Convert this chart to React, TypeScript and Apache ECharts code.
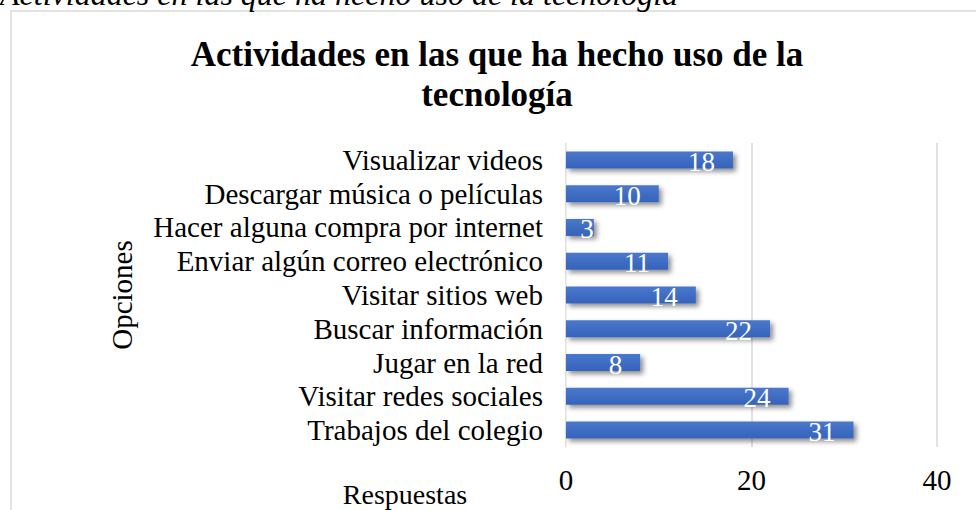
import React, { useEffect, useRef } from "react";
import * as echarts from "echarts";

const categories = [
  "Trabajos del colegio",
  "Visitar redes sociales",
  "Jugar en la red",
  "Buscar información",
  "Visitar sitios web",
  "Enviar algún correo electrónico",
  "Hacer alguna compra por internet",
  "Descargar música o películas",
  "Visualizar videos",
];
const values = [31, 24, 8, 22, 14, 11, 3, 10, 18];
const titleText = "Actividades en las que ha hecho uso de la\ntecnología";
const captionText = "Actividades en las que ha hecho uso de la tecnología";
const xAxisName = "Respuestas";
const yAxisName = "Opciones";

const FONT = "'Liberation Serif', 'Times New Roman', serif";

export default function App() {
  const ref = useRef<HTMLDivElement>(null);
  useEffect(() => {
    if (!ref.current) return;
    const chart = echarts.init(ref.current, undefined, { renderer: "svg" });
    chart.setOption({
      animation: false,
      backgroundColor: "#ffffff",
      textStyle: { fontFamily: FONT },
      grid: { left: 566, right: 39, top: 143, bottom: 63, containLabel: false },
      xAxis: {
        type: "value",
        min: 0,
        max: 40,
        interval: 20,
        axisLine: { show: false },
        axisTick: { show: false },
        axisLabel: { color: "#000", fontSize: 29, fontFamily: FONT, margin: 18 },
        splitLine: { show: true, lineStyle: { color: "#d9d9d9", width: 1.5 } },
      },
      yAxis: {
        type: "category",
        data: categories,
        axisLine: { show: true, lineStyle: { color: "#eeeeee", width: 1 } },
        axisTick: { show: false },
        axisLabel: {
          color: "#000",
          fontSize: 29,
          fontFamily: FONT,
          margin: 23,
          interval: 0,
          hideOverlap: false,
        },
      },
      series: [
        {
          type: "bar",
          data: values.map((v) =>
            v < 5 ? { value: v, label: { distance: 0 } } : v
          ),
          barWidth: 17,
          itemStyle: {
            color: new echarts.graphic.LinearGradient(0, 0, 0, 1, [
              { offset: 0, color: "#4a78cc" },
              { offset: 1, color: "#3563bb" },
            ]),
            shadowColor: "rgba(0,0,0,0.45)",
            shadowBlur: 5,
            shadowOffsetX: 3,
            shadowOffsetY: 3,
          },
          label: {
            show: true,
            position: "insideRight",
            distance: 18,
            color: "#ffffff",
            fontSize: 27,
            fontFamily: FONT,
            offset: [0, 2],
          },
        },
      ],
      graphic: [
        {
          type: "rect",
          shape: { x: 11, y: 11, width: 1100, height: 600 },
          style: { fill: "none", stroke: "#d9d9d9", lineWidth: 1.5 },
          silent: true,
        },
        {
          type: "text",
          x: 0,
          y: 10,
          style: {
            text: captionText,
            font: `italic 32px ${FONT}`,
            fill: "#000",
            textAlign: "left",
            textVerticalAlign: "bottom",
          },
        },
        {
          type: "text",
          x: 497,
          y: 34,
          style: {
            text: titleText,
            font: `bold 35px ${FONT}`,
            fill: "#000",
            textAlign: "center",
            lineHeight: 40,
          },
        },
        {
          type: "text",
          x: 122,
          y: 295,
          rotation: Math.PI / 2,
          style: {
            text: yAxisName,
            font: `29px ${FONT}`,
            fill: "#000",
            textAlign: "center",
            textVerticalAlign: "middle",
          },
        },
        {
          type: "text",
          x: 405,
          y: 494,
          style: {
            text: xAxisName,
            font: `28px ${FONT}`,
            fill: "#000",
            textAlign: "center",
            textVerticalAlign: "middle",
          },
        },
      ],
    });
    return () => chart.dispose();
  }, []);
  return (
    <div
      ref={ref}
      style={{ position: "fixed", left: 0, top: 0, width: 976, height: 510 }}
    />
  );
}
